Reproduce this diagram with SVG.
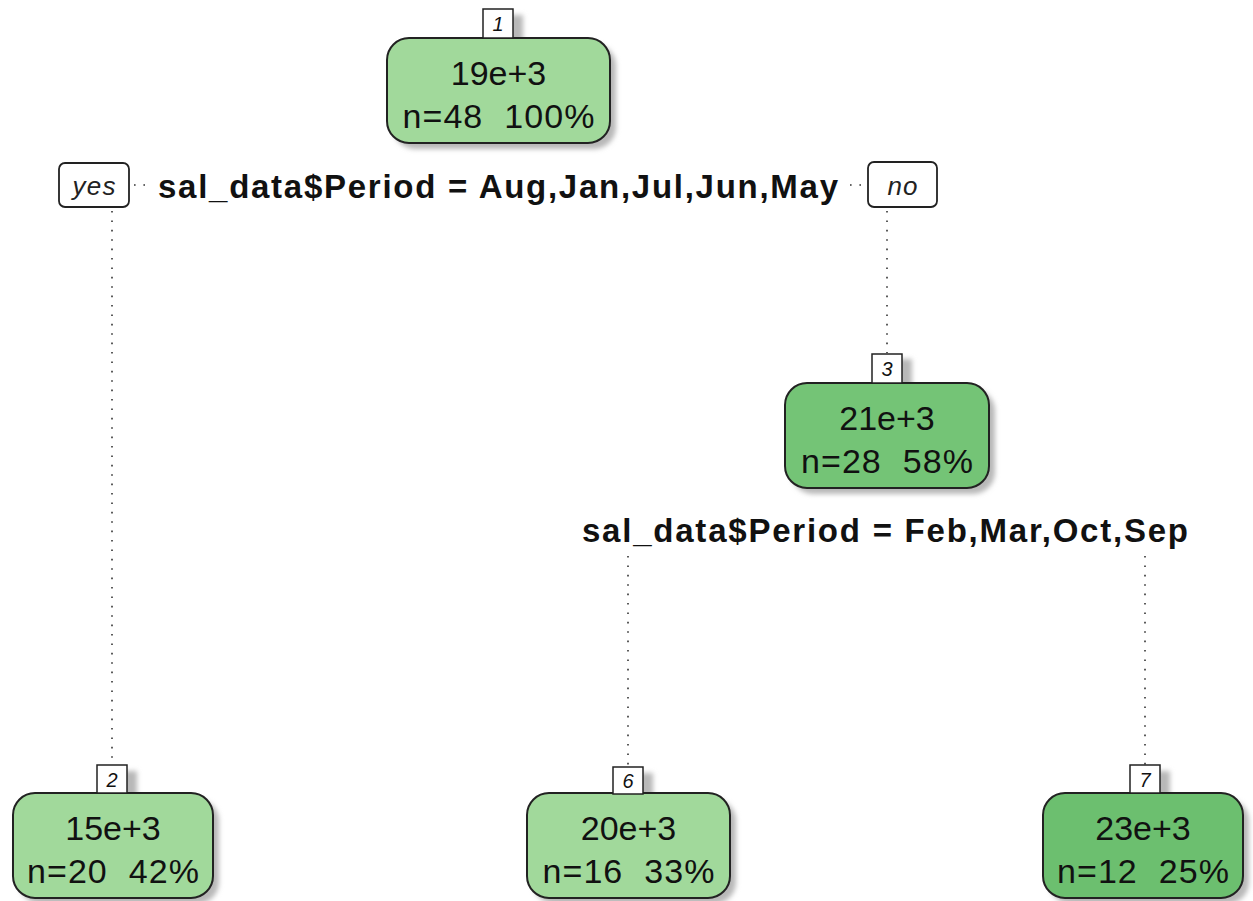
<svg xmlns="http://www.w3.org/2000/svg" width="1253" height="901" viewBox="0 0 1253 901">
<defs>
<filter id="sh" x="-20%" y="-20%" width="140%" height="140%"><feGaussianBlur stdDeviation="2.5"/></filter>
<style>
text{font-family:"Liberation Sans",Arial,sans-serif;fill:#111}
.box{stroke:#222;stroke-width:2}
.shadow{fill:#b8b8b8;filter:url(#sh)}
.lab{fill:#fff;stroke:#222;stroke-width:1.5}
.num{font-size:20px;font-style:italic;text-anchor:middle}
.val{font-size:34px;text-anchor:middle}
.split{font-size:33px;font-weight:bold;text-anchor:middle}
.yn{font-size:26px;font-style:italic;text-anchor:middle;fill:#222}
.light{fill:#a1d99b}
.mid{fill:#74c476}
.dark{fill:#6cbf6f}
.con{stroke:#333;stroke-width:1.6;stroke-dasharray:1.6 7.8;fill:none}
</style>
</defs>
<rect width="1253" height="901" fill="#fff"/>

<g id="connectors">
<line class="con" x1="134" y1="185" x2="152" y2="185"/>
<line class="con" x1="112" y1="211" x2="112" y2="765"/>
<line class="con" x1="850" y1="185" x2="868" y2="185"/>
<line class="con" x1="887" y1="211" x2="887" y2="353"/>
<line class="con" x1="628" y1="556" x2="628" y2="767"/>
<line class="con" x1="1145" y1="556" x2="1145" y2="765"/>
</g>

<g id="split1">
<text class="split" x="498" y="198" textLength="680" lengthAdjust="spacing">sal_data$Period = Aug,Jan,Jul,Jun,May</text>
</g>
<g id="yes">
<rect x="59" y="163" width="70" height="44" rx="6" fill="#fff" stroke="#222" stroke-width="1.8"/>
<text class="yn" x="94" y="195" textLength="43" lengthAdjust="spacing">yes</text>
</g>
<g id="no">
<rect x="868" y="162" width="69" height="45" rx="6" fill="#fff" stroke="#222" stroke-width="1.8"/>
<text class="yn" x="902.5" y="195" textLength="30" lengthAdjust="spacing">no</text>
</g>
<g id="split3">
<text class="split" x="885" y="542" textLength="606" lengthAdjust="spacing">sal_data$Period = Feb,Mar,Oct,Sep</text>
</g>

<g id="node1">
<rect class="shadow" x="493" y="15" width="30" height="29"/>
<rect class="shadow" x="393" y="44" width="223" height="105" rx="22"/>
<rect class="box light" x="387" y="38" width="223" height="105" rx="22"/>
<rect class="lab" x="483" y="9" width="30" height="29"/>
<text class="num" x="498" y="31">1</text>
<text class="val" x="498.5" y="85">19e+3</text>
<text class="val" x="498.5" y="128" xml:space="preserve" textLength="192" lengthAdjust="spacing">n=48  100%</text>
</g>

<g id="node3">
<rect class="shadow" x="882" y="359" width="30" height="29"/>
<rect class="shadow" x="791" y="389" width="204" height="105" rx="22"/>
<rect class="box mid" x="785" y="383" width="204" height="105" rx="22"/>
<rect class="lab" x="872" y="354" width="30" height="29"/>
<text class="num" x="887" y="376">3</text>
<text class="val" x="887" y="430">21e+3</text>
<text class="val" x="887" y="473" xml:space="preserve" textLength="172" lengthAdjust="spacing">n=28  58%</text>
</g>

<g id="node2">
<rect class="shadow" x="107" y="771" width="30" height="29"/>
<rect class="shadow" x="19" y="799" width="200" height="105" rx="22"/>
<rect class="box light" x="13" y="793" width="200" height="105" rx="22"/>
<rect class="lab" x="97" y="765" width="30" height="28"/>
<text class="num" x="112" y="787">2</text>
<text class="val" x="113" y="840">15e+3</text>
<text class="val" x="113" y="883" xml:space="preserve" textLength="172" lengthAdjust="spacing">n=20  42%</text>
</g>

<g id="node6">
<rect class="shadow" x="623" y="773" width="30" height="29"/>
<rect class="shadow" x="533" y="799" width="203" height="105" rx="22"/>
<rect class="box light" x="527" y="793" width="203" height="105" rx="22"/>
<rect class="lab" x="613" y="767" width="30" height="27"/>
<text class="num" x="628" y="788">6</text>
<text class="val" x="628.5" y="840">20e+3</text>
<text class="val" x="628.5" y="883" xml:space="preserve" textLength="172" lengthAdjust="spacing">n=16  33%</text>
</g>

<g id="node7">
<rect class="shadow" x="1140" y="771" width="30" height="29"/>
<rect class="shadow" x="1049" y="799" width="200" height="105" rx="22"/>
<rect class="box dark" x="1043" y="793" width="200" height="105" rx="22"/>
<rect class="lab" x="1130" y="765" width="30" height="28"/>
<text class="num" x="1145" y="787">7</text>
<text class="val" x="1143" y="840">23e+3</text>
<text class="val" x="1143" y="883" xml:space="preserve" textLength="172" lengthAdjust="spacing">n=12  25%</text>
</g>
</svg>
